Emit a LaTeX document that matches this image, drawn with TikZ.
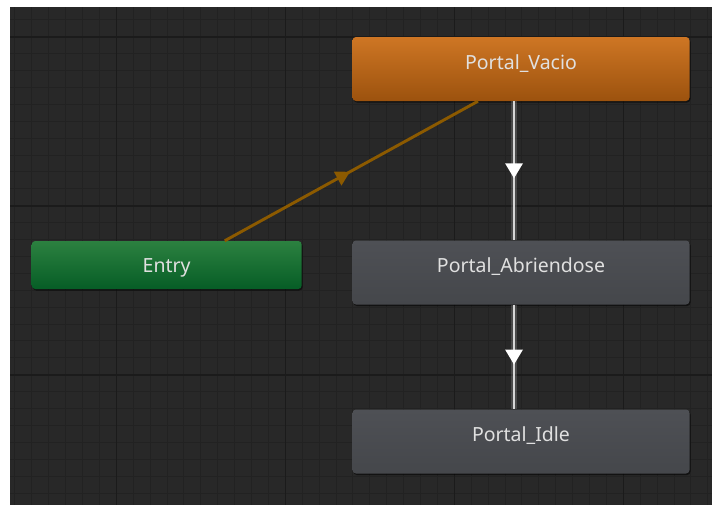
\documentclass[tikz,border=0pt]{standalone}
\usepackage{fontspec}
\setmainfont{Noto Sans}
\usetikzlibrary{decorations.markings,shadows}

\definecolor{canvas}{HTML}{282828}
\definecolor{gridminor}{HTML}{222222}
\definecolor{gridmajor}{HTML}{1B1B1B}
\definecolor{orangetop}{HTML}{CE7624}
\definecolor{orangebot}{HTML}{9C520E}
\definecolor{greentop}{HTML}{2C8140}
\definecolor{greenbot}{HTML}{065D26}
\definecolor{graytop}{HTML}{4E5055}
\definecolor{graybot}{HTML}{45474B}
\definecolor{labeltext}{HTML}{E0E0E0}
\definecolor{entrylink}{HTML}{8C5A00}
\definecolor{statelink}{HTML}{D6D6D6}

\tikzset{
  statebox/.style={
    rounded corners=3.5pt, inner sep=0pt,
    minimum width=337pt, text height=32pt, text depth=32pt,
    font=\fontsize{19.5}{23}\selectfont, text=labeltext,
    drop shadow={shadow xshift=1pt, shadow yshift=-1.5pt, opacity=0.55, fill=black}
  },
  idlebox/.style={statebox, top color=graytop, bottom color=graybot},
  defaultbox/.style={statebox, top color=orangetop, bottom color=orangebot},
  entrybox/.style={statebox, minimum width=270pt, text height=31.5pt, text depth=16.5pt,
    top color=greentop, bottom color=greenbot},
  linkglow/.style={line width=5.5pt, draw=white, opacity=0.16},
  linkwhite/.style={line width=2.4pt, draw=statelink,
    postaction={decorate, decoration={markings,
      mark=at position 0.5 with {\fill[white] (-7.5pt,-9pt) -- (7.5pt,0pt) -- (-7.5pt,9pt) -- cycle;}}}},
  linkorange/.style={line width=2.9pt, draw=entrylink,
    postaction={decorate, decoration={markings,
      mark=at position 0.47 with {\fill[entrylink] (-7pt,-8pt) -- (7pt,0pt) -- (-7pt,8pt) -- cycle;}}}},
  minorline/.style={draw=gridminor, line width=1pt},
  majorline/.style={draw=gridmajor, line width=1.6pt}
}

\begin{document}
\begin{tikzpicture}[x=1pt, y=-1pt]
  % page and canvas
  \fill[white] (0,0) rectangle (712,504);
  \useasboundingbox (0,0) rectangle (712,504);
  \fill[canvas] (10,7) rectangle (720,512);

  % grid
  \begin{scope}
    \clip (10,7) rectangle (720,512);
    \foreach \k in {-6,...,36} {
      \draw[minorline] ({116.3+\k*16.9},7) -- ({116.3+\k*16.9},512);
    }
    \foreach \k in {-1,...,28} {
      \draw[minorline] (10,{36.7+\k*16.9}) -- (720,{36.7+\k*16.9});
    }
    \foreach \k in {0,10,20,30} {
      \draw[majorline] ({116.3+\k*16.9},7) -- ({116.3+\k*16.9},512);
    }
    \foreach \k in {0,10,20} {
      \draw[majorline] (10,{36.7+\k*16.9}) -- (720,{36.7+\k*16.9});
    }
  \end{scope}

  % states
  \node[defaultbox] (vacio) at (521,69) {Portal\_Vacio};
  \node[idlebox] (abre) at (521,272.5) {Portal\_Abriendose};
  \node[idlebox] (idle) at (521,441.5) {Portal\_Idle};
  \node[entrybox] (entry) at (166.7,265) {Entry};

  % transitions
  \draw[linkorange] ([xshift=58pt]entry.north) -- ([xshift=-43pt]vacio.south);

  \draw[linkglow] ([xshift=-7pt]vacio.south) -- ([xshift=-7pt]abre.north);
  \draw[linkwhite] ([xshift=-7pt]vacio.south) -- ([xshift=-7pt]abre.north);

  \draw[linkglow] ([xshift=-7pt]abre.south) -- ([xshift=-7pt]idle.north);
  \draw[linkwhite] ([xshift=-7pt]abre.south) -- ([xshift=-7pt]idle.north);
\end{tikzpicture}
\end{document}
